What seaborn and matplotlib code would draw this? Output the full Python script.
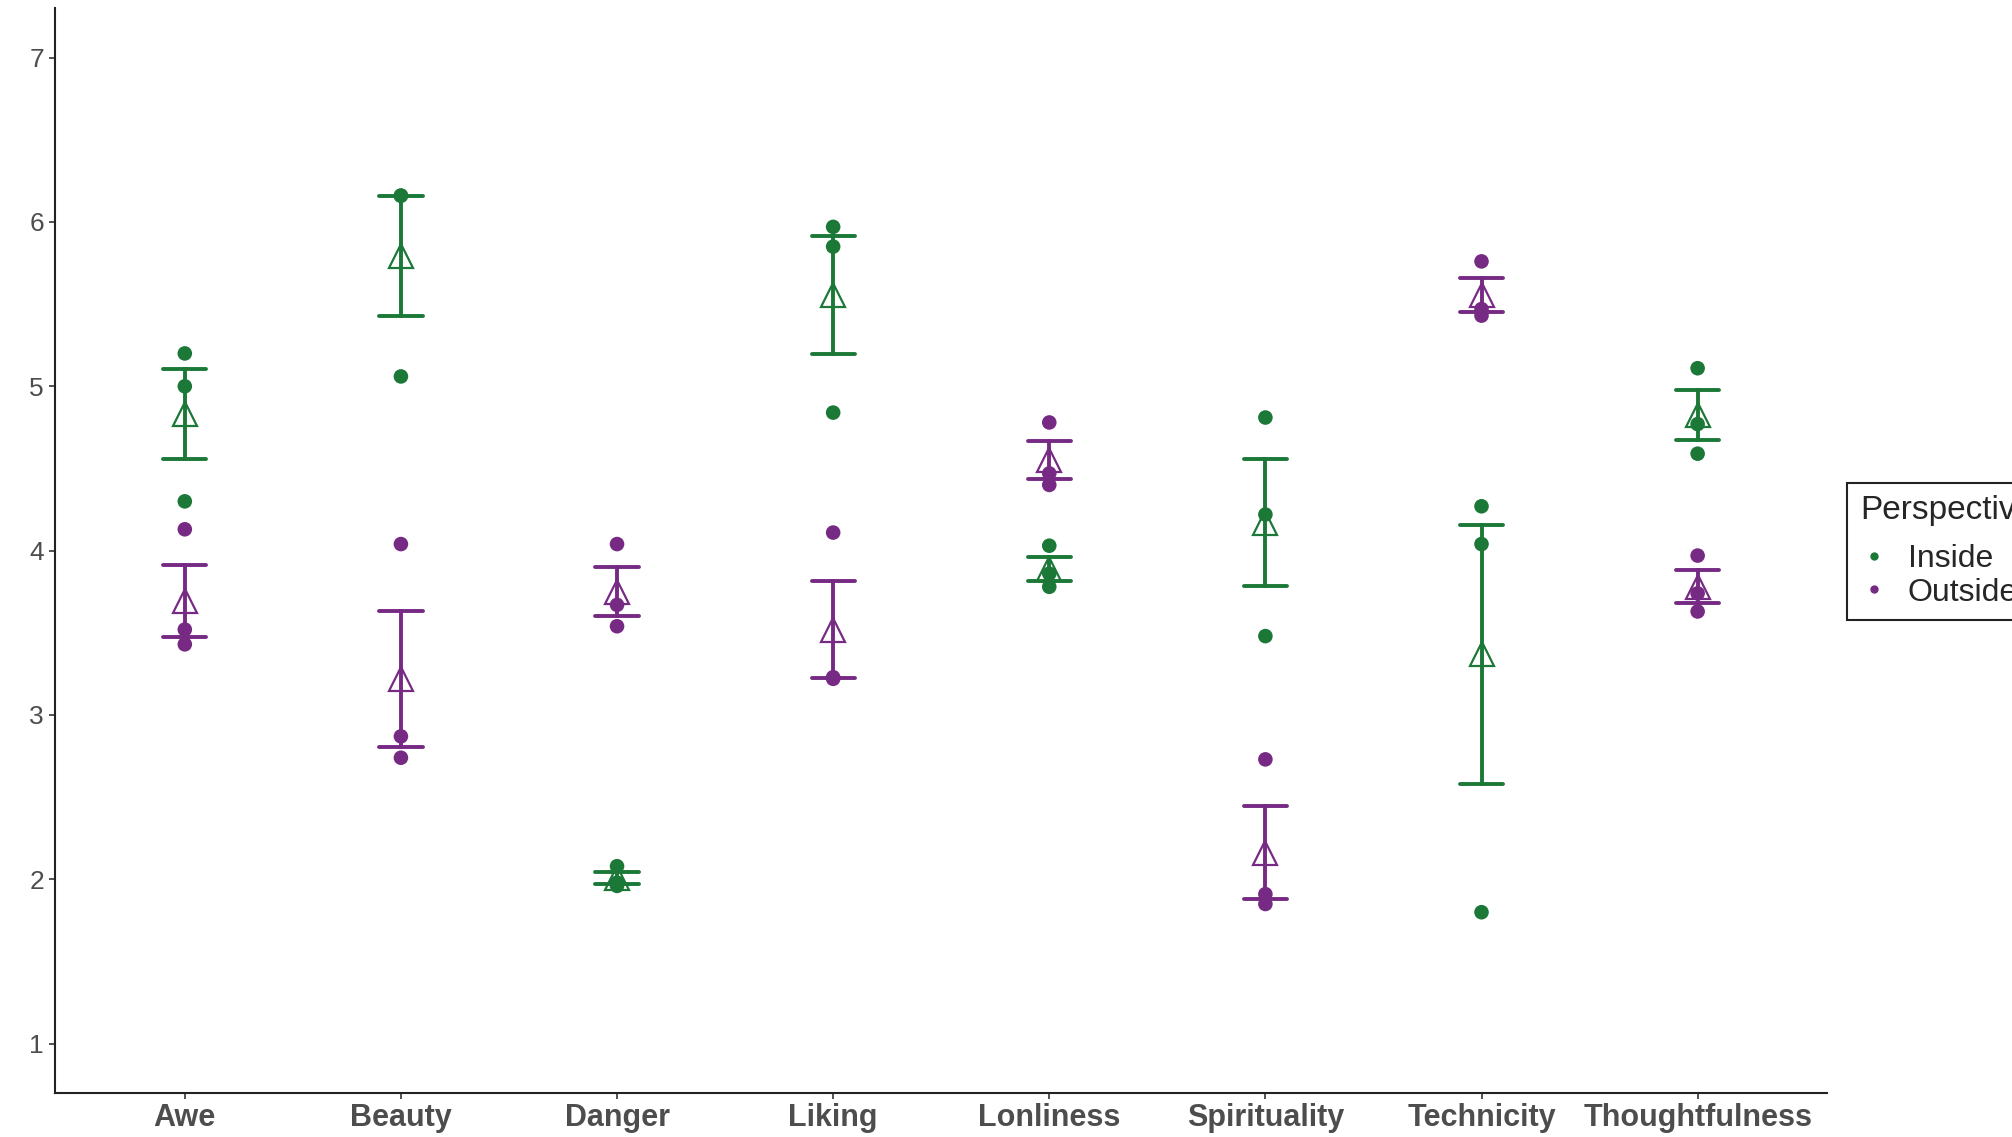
import numpy as np
import pandas as pd
import matplotlib
matplotlib.use("Agg")
import matplotlib.pyplot as plt
from matplotlib.lines import Line2D
import seaborn as sns

# Ratings per scale (three ratings per perspective)
scales = ["Awe", "Beauty", "Danger", "Liking", "Lonliness",
          "Spirituality", "Technicity", "Thoughtfulness"]
inside_ratings = [
    [5.20, 5.00, 4.30],
    [6.16, 6.16, 5.06],
    [2.08, 1.98, 1.96],
    [5.97, 5.85, 4.84],
    [4.03, 3.86, 3.78],
    [4.81, 4.22, 3.48],
    [4.27, 4.04, 1.80],
    [5.11, 4.77, 4.59],
]
outside_ratings = [
    [4.13, 3.52, 3.43],
    [4.04, 2.87, 2.74],
    [4.04, 3.67, 3.54],
    [4.11, 3.23, 3.22],
    [4.78, 4.47, 4.40],
    [2.73, 1.91, 1.85],
    [5.76, 5.47, 5.43],
    [3.97, 3.74, 3.63],
]
perspectives = ["Inside", "Outside"]
palette = {"Inside": "#1B7837", "Outside": "#762A83"}
y_ticks = [1, 2, 3, 4, 5, 6, 7]

rows = []
for persp, table in zip(perspectives, [inside_ratings, outside_ratings]):
    for scale, vals in zip(scales, table):
        for v in vals:
            rows.append({"Scale": scale, "Rating": v, "Perspective": persp})
df = pd.DataFrame(rows)

sns.set_theme(style="white")
plt.rcParams["font.family"] = ["Liberation Sans", "DejaVu Sans"]

fig = plt.figure(figsize=(20.12, 11.37), dpi=100)
ax = fig.add_axes([0.0274, 0.0387, 0.8808, 0.954])

# individual ratings
sns.stripplot(data=df, x="Scale", y="Rating", hue="Perspective",
              order=scales, hue_order=perspectives, palette=palette,
              jitter=False, dodge=False, size=10.5, linewidth=0,
              legend=False, ax=ax, zorder=2)

# means with standard-error bars
sns.pointplot(data=df, x="Scale", y="Rating", hue="Perspective",
              order=scales, hue_order=perspectives, palette=palette,
              errorbar="se", capsize=0.2, markers="^", linestyles="none",
              dodge=False, legend=False, ax=ax,
              markersize=17.5, markeredgewidth=1.6,
              err_kws={"linewidth": 2.8})

for line in ax.lines:
    if line.get_marker() == "^":
        line.set_markerfacecolor("none")
        line.set_zorder(4)
    else:
        line.set_zorder(3)

ax.set_xlim(-0.6, len(scales) - 1 + 0.6)
ax.set_ylim(0.7, 7.3)
ax.set_yticks(y_ticks)
ax.set_yticklabels([str(t) for t in y_ticks])

for side in ["top", "right"]:
    ax.spines[side].set_visible(False)
for side in ["left", "bottom"]:
    ax.spines[side].set_color("#222222")
    ax.spines[side].set_linewidth(1.5)

ax.tick_params(axis="both", which="major", length=4, width=1.2,
               color="#333333", left=True, bottom=True)
ax.tick_params(axis="y", labelsize=19, labelcolor="#4D4D4D", pad=4)
ax.tick_params(axis="x", labelsize=22, labelcolor="#4D4D4D", pad=3)
for lab in ax.get_xticklabels():
    lab.set_fontweight("bold")

ax.set_ylabel("")
ax.set_xlabel("Scale", fontsize=22, fontweight="bold", color="#222222")
ax.xaxis.set_label_coords(0.5, -0.041)

handles = [Line2D([0], [0], marker="o", linestyle="none", markersize=6,
                  markerfacecolor=palette[p], markeredgewidth=0)
           for p in perspectives]
leg = fig.legend(handles, perspectives, title="Perspective",
                 loc="center left", bbox_to_anchor=(1847 / 2012, 0.515),
                 bbox_transform=fig.transFigure, fontsize=23,
                 title_fontsize=24, frameon=True, fancybox=False,
                 edgecolor="#222222", framealpha=1, borderpad=0.4,
                 handlelength=0.9, handletextpad=0.6, labelspacing=0.1,
                 alignment="left", borderaxespad=0)
leg.get_frame().set_linewidth(1.5)
# extra room between the legend title and its entries
leg._legend_box.sep = 13

fig.savefig("out.png", dpi=100)
